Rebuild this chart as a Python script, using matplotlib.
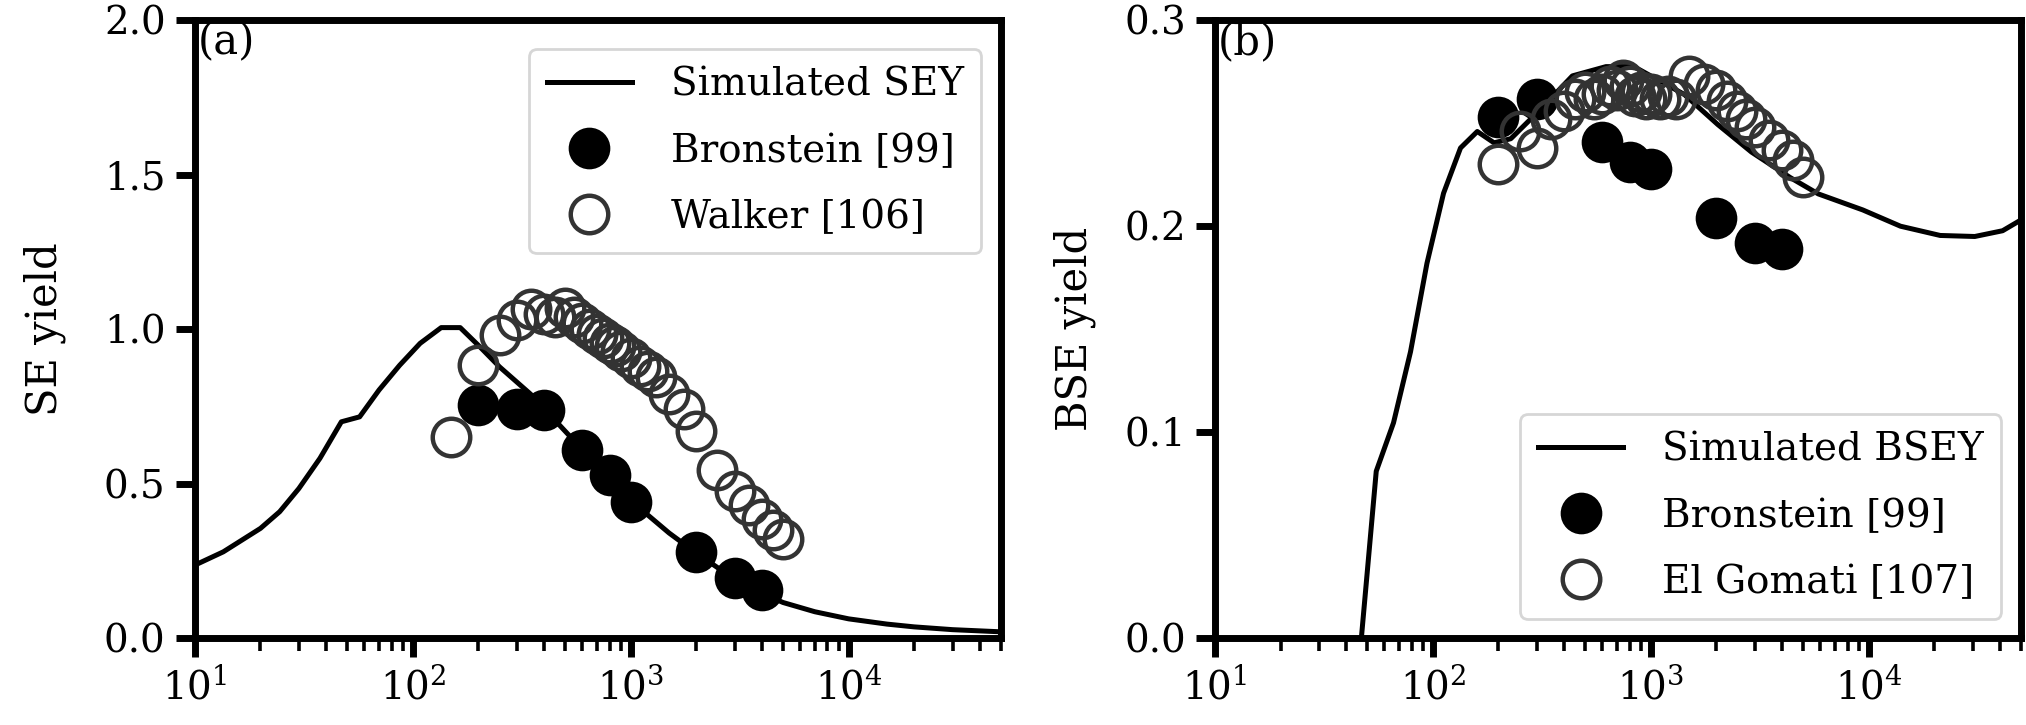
import matplotlib
matplotlib.use("Agg")
import matplotlib.pyplot as plt

plt.rcParams['font.family'] = ['DejaVu Serif']
plt.rcParams['mathtext.fontset'] = 'dejavuserif'
plt.rcParams['font.size'] = 14

# Simulated secondary electron yield
sey_energy = [10, 13.5, 20, 24.5, 30, 37.5, 47, 57, 70, 87, 108, 135, 165, 203, 250,
              344, 400, 456, 600, 800, 1000, 1500, 2000, 3000, 4000, 5000, 7000,
              10000, 15000, 20000, 30000, 50000]
sey_sim = [0.236, 0.279, 0.355, 0.409, 0.484, 0.582, 0.700, 0.716, 0.803, 0.883, 0.954,
           1.005, 1.005, 0.943, 0.878, 0.792, 0.749, 0.70, 0.61, 0.52, 0.445, 0.34,
           0.275, 0.19, 0.145, 0.115, 0.085, 0.062, 0.045, 0.036, 0.027, 0.02]

# Bronstein SE data
bron_se_energy = [200, 300, 400, 600, 800, 1000, 2000, 3000, 4000]
bron_se = [0.755, 0.742, 0.738, 0.608, 0.528, 0.44, 0.277, 0.193, 0.155]

# Walker SE data
walker_energy = [150, 200, 250, 300, 350, 400, 450, 500, 550, 600, 650, 700, 750, 800,
                 850, 900, 1000, 1100, 1200, 1300, 1500, 1750, 2000, 2500, 3000, 3500,
                 4000, 4500, 5000]
walker_se = [0.65, 0.885, 0.98, 1.03, 1.065, 1.05, 1.04, 1.07, 1.04, 1.02, 1.0, 0.985,
             0.97, 0.955, 0.945, 0.93, 0.905, 0.88, 0.865, 0.845, 0.79, 0.74, 0.67,
             0.545, 0.475, 0.43, 0.385, 0.35, 0.32]

# Simulated backscattered electron yield
bsey_energy = [47, 55, 66, 79, 94, 112, 134, 160, 191, 228, 307, 437, 623, 838, 1000,
               1425, 2030, 2900, 4370, 5870, 9400, 14000, 21300, 30700, 41200, 50700]
bsey_sim = [0.0, 0.081, 0.1045, 0.139, 0.182, 0.216, 0.238, 0.246, 0.2405, 0.2425,
            0.256, 0.273, 0.2775, 0.2775, 0.273, 0.264, 0.2494, 0.236, 0.2236, 0.2157,
            0.2079, 0.2, 0.1955, 0.195, 0.1978, 0.2034]

# Bronstein BSE data
bron_bse_energy = [200, 300, 600, 800, 1000, 2000, 3000, 4000]
bron_bse = [0.253, 0.262, 0.241, 0.231, 0.228, 0.204, 0.192, 0.189]

# El Gomati BSE data
gomati_energy = [200, 250, 300, 350, 400, 450, 500, 550, 600, 650, 700, 750, 800, 850,
                 900, 950, 1000, 1100, 1200, 1300, 1500, 1750, 2000, 2250, 2500, 2750,
                 3000, 3500, 4000, 4500, 5000]
gomati_bse = [0.230, 0.246, 0.238, 0.252, 0.256, 0.262, 0.265, 0.262, 0.264, 0.268,
              0.266, 0.271, 0.268, 0.263, 0.265, 0.262, 0.264, 0.262, 0.263, 0.262,
              0.273, 0.269, 0.266, 0.261, 0.256, 0.252, 0.248, 0.242, 0.237, 0.232,
              0.224]

fig, (ax1, ax2) = plt.subplots(1, 2, figsize=(10.13, 3.625), dpi=200)
fig.subplots_adjust(left=0.0962, right=0.9975, bottom=0.12, top=0.972, wspace=0.2655)

open_style = dict(marker='o', ls='none', mfc='none', mec='#333333', mew=1.6, ms=13.5)
fill_style = dict(marker='o', ls='none', color='k', ms=14)
leg_style = dict(handlelength=2.2, handletextpad=1.0, labelspacing=0.75, borderpad=0.45)

ax1.plot(sey_energy, sey_sim, 'k-', lw=1.8, label='Simulated SEY')
ax1.plot(bron_se_energy, bron_se, label='Bronstein [99]', **fill_style)
ax1.plot(walker_energy, walker_se, label='Walker [106]', **open_style)
ax1.set_ylim(0, 2.0)
ax1.set_yticks([0, 0.5, 1.0, 1.5, 2.0])
ax1.set_ylabel('SE yield', fontsize=15)
ax1.yaxis.set_label_coords(-0.16, 0.5)
ax1.legend(loc='upper right', bbox_to_anchor=(1.0, 0.985), **leg_style)
ax1.text(0.003, 0.998, '(a)', transform=ax1.transAxes, va='top', ha='left', fontsize=15)

ax2.plot(bsey_energy, bsey_sim, 'k-', lw=1.8, label='Simulated BSEY')
ax2.plot(bron_bse_energy, bron_bse, label='Bronstein [99]', **fill_style)
ax2.plot(gomati_energy, gomati_bse, label='El Gomati [107]', **open_style)
ax2.set_ylim(0, 0.3)
ax2.set_yticks([0, 0.1, 0.2, 0.3])
ax2.set_ylabel('BSE yield', fontsize=15)
ax2.yaxis.set_label_coords(-0.148, 0.5)
ax2.legend(loc='lower right', **leg_style)
ax2.text(0.003, 0.998, '(b)', transform=ax2.transAxes, va='top', ha='left', fontsize=15)

for ax in (ax1, ax2):
    ax.set_xscale('log')
    ax.set_xlim(10, 5e4)
    ax.yaxis.set_major_formatter(matplotlib.ticker.FormatStrFormatter('%.1f'))
    for s in ax.spines.values():
        s.set_linewidth(2.5)
    ax.tick_params(which='major', length=7, width=2.5)
    ax.tick_params(which='minor', length=4.5, width=1.3)

fig.savefig('out.png', dpi=200)
